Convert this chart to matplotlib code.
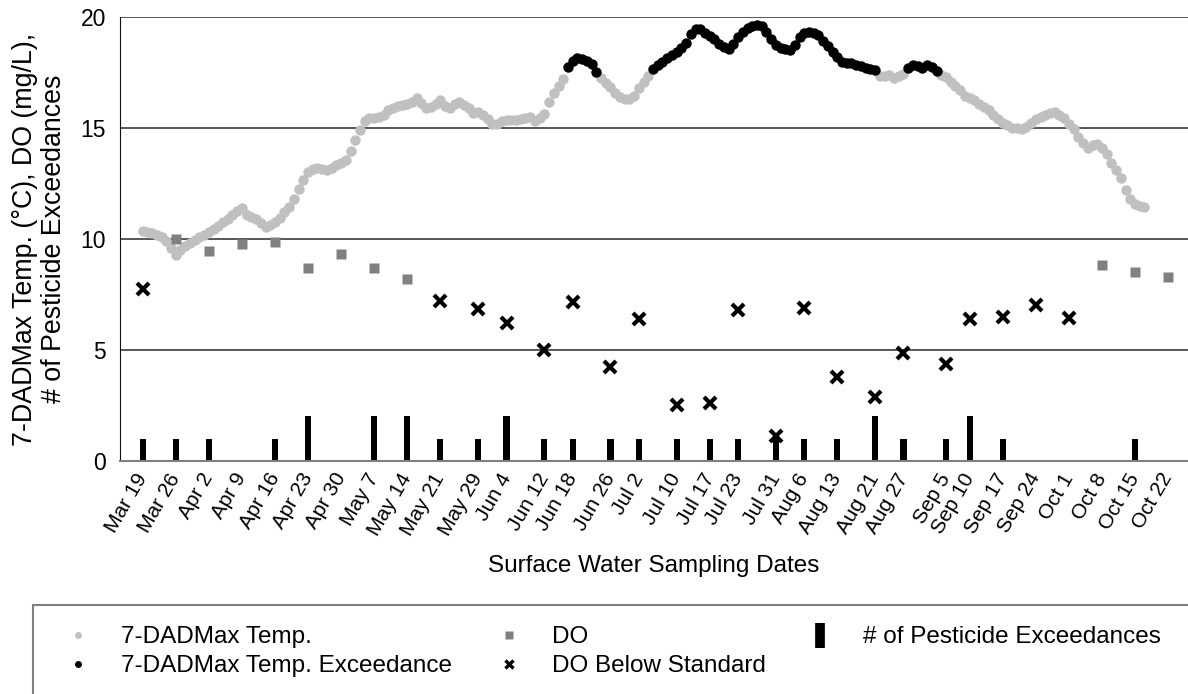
import numpy as np
import pandas as pd
import matplotlib
matplotlib.use('Agg')
import matplotlib.pyplot as plt
from matplotlib.lines import Line2D
from matplotlib.patches import Rectangle

plt.rcParams['font.family'] = ['Liberation Sans', 'DejaVu Sans']

# sampling dates and pesticide exceedance counts
sample_dates = ['2018-03-19', '2018-03-26', '2018-04-02', '2018-04-09', '2018-04-16', '2018-04-23',
                '2018-04-30', '2018-05-07', '2018-05-14', '2018-05-21', '2018-05-29', '2018-06-04',
                '2018-06-12', '2018-06-18', '2018-06-26', '2018-07-02', '2018-07-10', '2018-07-17',
                '2018-07-23', '2018-07-31', '2018-08-06', '2018-08-13', '2018-08-21', '2018-08-27',
                '2018-09-05', '2018-09-10', '2018-09-17', '2018-09-24', '2018-10-01', '2018-10-08',
                '2018-10-15', '2018-10-22']
pesticide = [1, 1, 1, 0, 1, 2, 0, 2, 2, 1, 1, 2, 1, 1, 1, 1, 1, 1, 1, 1, 1, 1, 2, 1, 1, 2, 1, 0, 0, 0, 1, 0]

# dissolved oxygen meeting the standard
do_dates = ['2018-03-26', '2018-04-02', '2018-04-09', '2018-04-16', '2018-04-23', '2018-04-30',
            '2018-05-07', '2018-05-14', '2018-10-08', '2018-10-15', '2018-10-22']
do_vals = [9.98, 9.47, 9.76, 9.85, 8.67, 9.32, 8.67, 8.18, 8.82, 8.52, 8.29]

# dissolved oxygen below the standard
do_low_dates = ['2018-03-19', '2018-05-21', '2018-05-29', '2018-06-04', '2018-06-12', '2018-06-18',
                '2018-06-26', '2018-07-02', '2018-07-10', '2018-07-17', '2018-07-23', '2018-07-31',
                '2018-08-06', '2018-08-13', '2018-08-21', '2018-08-27', '2018-09-05', '2018-09-10',
                '2018-09-17', '2018-09-24', '2018-10-01']
do_low_vals = [7.76, 7.19, 6.86, 6.23, 5.01, 7.16, 4.22, 6.38, 2.53, 2.61, 6.82, 1.13,
               6.89, 3.77, 2.88, 4.86, 4.37, 6.41, 6.49, 7.01, 6.44]

# daily 7-DADMax temperature starting Mar 19
temp_start = '2018-03-19'
temp = [10.36, 10.3, 10.26, 10.2, 10.1, 9.9, 9.6, 9.3, 9.5, 9.7,
        9.8, 9.95, 10.08, 10.2, 10.3, 10.45, 10.6, 10.75, 10.9, 11.1,
        11.25, 11.38, 11.1, 11.0, 10.88, 10.7, 10.56, 10.62, 10.75, 10.93,
        11.2, 11.45, 11.8, 12.25, 12.66, 13.0, 13.17, 13.2, 13.15, 13.12,
        13.22, 13.35, 13.45, 13.55, 13.98, 14.47, 14.92, 15.3, 15.44, 15.45,
        15.5, 15.6, 15.8, 15.92, 16.02, 16.06, 16.09, 16.2, 16.35, 16.12,
        15.92, 15.95, 16.07, 16.25, 16.0, 15.9, 16.1, 16.2, 16.05, 15.9,
        15.7, 15.75, 15.6, 15.4, 15.2, 15.18, 15.3, 15.37, 15.35, 15.37,
        15.4, 15.45, 15.52, 15.3, 15.45, 15.65, 16.2, 16.6, 16.9, 17.2,
        17.75, 18.05, 18.15, 18.12, 18.05, 17.9, 17.55, 17.25, 17.05, 16.85,
        16.6, 16.4, 16.32, 16.3, 16.45, 16.8, 17.1, 17.35, 17.65, 17.85,
        18.0, 18.15, 18.3, 18.45, 18.6, 18.85, 19.25, 19.45, 19.45, 19.28,
        19.15, 19.0, 18.8, 18.65, 18.56, 18.8, 19.1, 19.35, 19.5, 19.6,
        19.65, 19.6, 19.35, 19.0, 18.75, 18.6, 18.55, 18.53, 18.75, 19.1,
        19.3, 19.35, 19.3, 19.2, 18.95, 18.7, 18.45, 18.2, 18.0, 17.95,
        17.92, 17.87, 17.8, 17.72, 17.68, 17.62, 17.35, 17.35, 17.4, 17.25,
        17.35, 17.45, 17.7, 17.85, 17.8, 17.7, 17.85, 17.75, 17.6, 17.4,
        17.3, 17.1, 16.9, 16.7, 16.45, 16.35, 16.25, 16.1, 15.95, 15.8,
        15.6, 15.42, 15.25, 15.12, 15.02, 14.99, 14.97, 15.05, 15.25, 15.4,
        15.5, 15.6, 15.68, 15.74, 15.6, 15.45, 15.2, 14.95, 14.6, 14.35,
        14.1, 14.25, 14.3, 14.1, 13.85, 13.45, 13.1, 12.75, 12.2, 11.8,
        11.6, 11.5, 11.45]
temp_standard = 17.5

sample_dt = pd.to_datetime(sample_dates)
temp_dt = pd.date_range(temp_start, periods=len(temp), freq='D')
temp_arr = np.array(temp)
over = temp_arr > temp_standard

fig = plt.figure(figsize=(11.88, 6.94), dpi=100)
ax = fig.add_axes([120 / 1188, (694 - 460.7) / 694, 1068 / 1188, 443.4 / 694])

ax.bar(sample_dt, pesticide, width=1.3, color='black', zorder=2)
ax.plot(temp_dt[~over], temp_arr[~over], 'o', color='#c0c0c0', ms=7.5, mec='none', zorder=3)
ax.plot(temp_dt[over], temp_arr[over], 'o', color='black', ms=7.5, mec='none', zorder=3)
ax.plot(pd.to_datetime(do_dates), do_vals, 's', color='#808080', ms=7, mec='none', zorder=3)
ax.plot(pd.to_datetime(do_low_dates), do_low_vals, 'x', color='black', ms=8.5, mew=3, zorder=4)

ax.set_ylim(0, 20)
ax.set_yticks([0, 5, 10, 15, 20])
ax.set_xlim(pd.Timestamp('2018-03-14 05:00'), pd.Timestamp('2018-10-26 05:00'))
ax.set_xticks(sample_dt)
ax.set_xticklabels([d.strftime('%b ') + str(d.day) for d in sample_dt], rotation=60,
                   ha='right', va='center', rotation_mode='anchor', fontsize=15)
ax.tick_params(axis='x', length=0, pad=10)
ax.tick_params(axis='y', length=0, pad=10, labelsize=16.5)
ax.yaxis.grid(True, color='#2a2a2a', lw=1.1, zorder=0)
ax.set_axisbelow(True)
ax.spines['right'].set_visible(False)
ax.spines['top'].set_visible(False)
ax.spines['left'].set_color('#101010')
ax.spines['bottom'].set_color('#808080')
ax.spines['bottom'].set_linewidth(1.5)

ax.set_ylabel('7-DADMax Temp. (°C), DO (mg/L),\n# of Pesticide Exceedances', fontsize=19.3,
              linespacing=1.15, labelpad=10)
ax.set_xlabel('Surface Water Sampling Dates', fontsize=17.5, labelpad=12)

# legend frame
fig.patches.append(Rectangle((33 / 1188, -0.02), 1.2, (694 - 605) / 694 + 0.02,
                             transform=fig.transFigure, fill=False, edgecolor='#7f7f7f', lw=1.5))

h_temp = Line2D([], [], marker='o', color='#c0c0c0', ls='none', ms=5, mec='none')
h_exc = Line2D([], [], marker='o', color='black', ls='none', ms=5, mec='none')
h_do = Line2D([], [], marker='s', color='#808080', ls='none', ms=6, mec='none')
h_low = Line2D([], [], marker='x', color='black', ls='none', ms=6, mew=2.4)
h_pest = Line2D([], [], marker='|', color='black', ls='none', ms=18, mew=7)

kw = dict(frameon=False, fontsize=17.5, handlelength=1.5, handletextpad=1.0, labelspacing=0.3,
          borderpad=0, borderaxespad=0, loc='upper left')
leg1 = fig.legend([h_temp, h_exc], ['7-DADMax Temp.', '7-DADMax Temp. Exceedance'],
                  bbox_to_anchor=(60 / 1188, 1 - 626 / 694), **kw)
leg2 = fig.legend([h_do, h_low], ['DO', 'DO Below Standard'],
                  bbox_to_anchor=(491 / 1188, 1 - 626 / 694), **kw)
leg3 = fig.legend([h_pest], ['# of Pesticide Exceedances'],
                  bbox_to_anchor=(802 / 1188, 1 - 626 / 694), **kw)

fig.savefig('out.png', dpi=100)
